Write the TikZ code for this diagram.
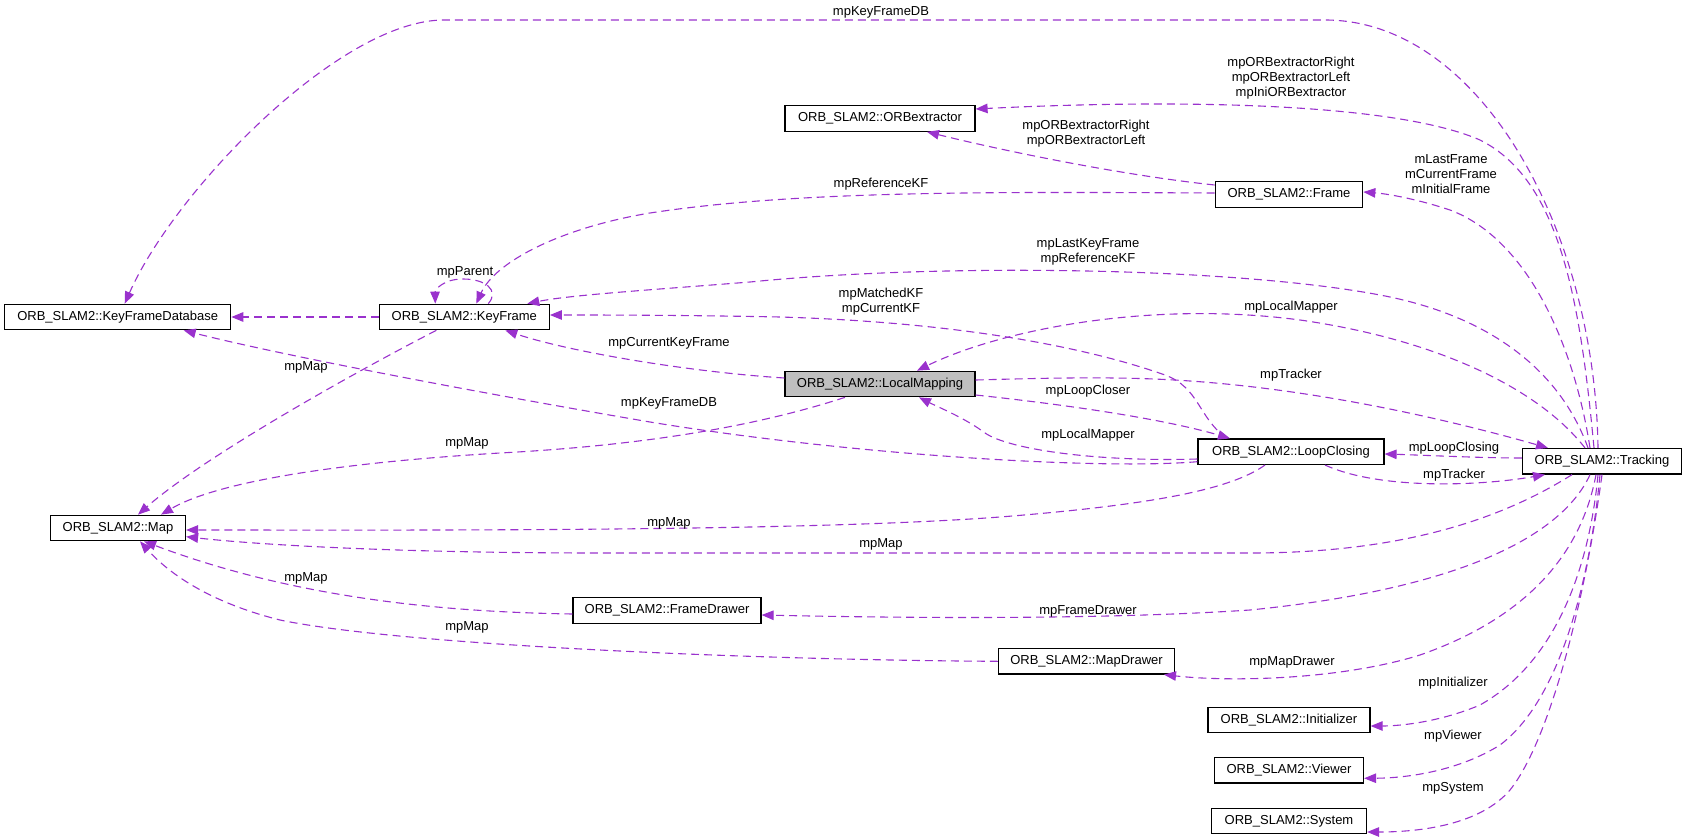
\documentclass[tikz,border=0pt]{standalone}
\usepackage{fontspec}
\setmainfont{Liberation Sans}
\usetikzlibrary{arrows.meta}
\definecolor{edgec}{HTML}{9A32CD}
\definecolor{lmfill}{HTML}{BFBFBF}
\begin{document}
\begin{tikzpicture}[x=1pt,y=-1pt,
  box/.style={draw=black, line width=1.2pt, minimum height=25.5pt, inner xsep=2pt, inner ysep=0pt, font=\fontsize{13}{15}\selectfont, anchor=center},
  edge/.style={draw=edgec, line width=1.1pt, dash pattern=on 8pt off 5pt, -{Triangle[length=12pt,width=9.5pt,fill=edgec]}},
  lbl/.style={font=\fontsize{13}{15}\selectfont, align=center, inner sep=0pt, text=black},
  ]
\useasboundingbox (0,0) rectangle (1687,840);

% nodes
\node[box, minimum width=226pt] (kfdb) at (117.7,317) {ORB\_SLAM2::KeyFrameDatabase};
\node[box, minimum width=170pt] (kf) at (464.3,317) {ORB\_SLAM2::KeyFrame};
\node[box, minimum width=190pt] (orb) at (880,118.5) {ORB\_SLAM2::ORBextractor};
\node[box, minimum width=190pt, fill=lmfill] (lm) at (880,384) {ORB\_SLAM2::LocalMapping};
\node[box, minimum width=147.5pt] (fr) at (1289,194.5) {ORB\_SLAM2::Frame};
\node[box, minimum width=135pt] (map) at (118,528) {ORB\_SLAM2::Map};
\node[box, minimum width=188pt] (fd) at (667,610.5) {ORB\_SLAM2::FrameDrawer};
\node[box, minimum width=176pt] (md) at (1086.5,661.3) {ORB\_SLAM2::MapDrawer};
\node[box, minimum width=186pt] (lc) at (1291,451.7) {ORB\_SLAM2::LoopClosing};
\node[box, minimum width=159pt] (trk) at (1602,461.3) {ORB\_SLAM2::Tracking};
\node[box, minimum width=162pt] (ini) at (1289,720) {ORB\_SLAM2::Initializer};
\node[box, minimum width=149pt] (vw) at (1289,770.3) {ORB\_SLAM2::Viewer};
\node[box, minimum width=155pt] (sys) at (1289,821) {ORB\_SLAM2::System};

% edges
\draw[edge] ([xshift=-4pt]trk.north) .. controls (1595,230) and (1480,20) .. (1325,20) -- (444,20) .. controls (340,20) and (175,190) .. ([xshift=7pt]kfdb.north);
\draw[edge] ([xshift=-8pt]trk.north) .. controls (1580,300) and (1560,180) .. (1480,140) .. controls (1400,105) and (1200,98) .. ([yshift=9.5pt]orb.east);
\draw[edge] ([yshift=9.5pt]fr.west) .. controls (1120,175) and (1000,150) .. ([xshift=47pt]orb.south);
\draw[edge] ([yshift=1.5pt]fr.west) .. controls (1000,192) and (800,190) .. (650,213) .. controls (560,228) and (495,262) .. ([xshift=12pt]kf.north);
\draw[edge] ([xshift=24pt]kf.north) .. controls (500,290) and (485,279) .. (463,279) .. controls (443,279) and (435,290) .. ([xshift=-29pt]kf.north);
\draw[edge] ([xshift=-14pt]trk.north) .. controls (1560,370) and (1490,318) .. (1390,297) .. controls (1250,268) and (950,262) .. (750,282) .. controls (650,290) and (570,295) .. ([xshift=63pt]kf.north);
\draw[edge] ([xshift=-64pt]lc.north) .. controls (1198,418) and (1200,388) .. (1165,375) .. controls (1080,345) and (950,322) .. (780,317) .. controls (680,315) and (600,315) .. ([yshift=2pt]kf.east);
\draw[edge] ([yshift=6pt]lm.west) .. controls (690,372) and (570,352) .. ([xshift=41pt]kf.south);
\draw[edge] ([yshift=-10pt]lc.west) .. controls (1100,470) and (850,455) .. (650,422) .. controls (480,393) and (280,355) .. ([xshift=66pt]kfdb.south);
\draw[edge] ([xshift=-35pt]lm.south) .. controls (760,425) and (650,445) .. (500,453) .. controls (350,462) and (220,480) .. ([xshift=43pt]map.north);
\draw[edge] ([xshift=-28pt]kf.south) .. controls (340,380) and (200,460) .. ([xshift=20pt]map.north);
\draw[edge] ([yshift=-11pt]lm.east) .. controls (1060,404) and (1160,418) .. ([xshift=-61pt]lc.north);
\draw[edge] ([yshift=-7.3pt]lc.west) .. controls (1100,462) and (1010,450) .. (985,433) .. controls (965,418) and (940,408) .. ([xshift=39pt]lm.south);
\draw[edge] ([yshift=4pt]lm.east) .. controls (1050,378) and (1120,376) .. (1190,381) .. controls (1320,390) and (1450,420) .. ([xshift=-54pt]trk.north);
\draw[edge] ([xshift=-17pt]trk.north) .. controls (1540,390) and (1440,340) .. (1300,320) .. controls (1150,300) and (1000,330) .. ([xshift=37pt]lm.north);
\draw[edge] ([yshift=3.3pt]trk.west) .. controls (1480,458) and (1420,455) .. ([yshift=-2.3pt]lc.east);
\draw[edge] ([xshift=34pt]lc.south) .. controls (1380,490) and (1480,486) .. ([xshift=-57pt]trk.south);
\draw[edge] ([xshift=-26pt]lc.south) .. controls (1230,490) and (1150,505) .. (1000,517) .. controls (800,532) and (400,530) .. ([yshift=-2pt]map.east);
\draw[edge] ([xshift=-30pt]trk.south) .. controls (1500,520) and (1400,553) .. (1250,553) -- (600,553) .. controls (400,553) and (260,545) .. ([yshift=-8.7pt]map.east);
\draw[edge] ([yshift=-3.5pt]fd.west) .. controls (450,612) and (300,600) .. ([xshift=26pt]map.south);
\draw[edge] (md.west) .. controls (750,660) and (400,645) .. (280,620) .. controls (220,605) and (175,580) .. ([xshift=22pt]map.south);
\draw[edge] ([xshift=-12pt]trk.south) .. controls (1560,540) and (1450,590) .. (1250,610) .. controls (1100,620) and (900,618) .. ([yshift=-4.5pt]fd.east);
\draw[edge] ([xshift=-6pt]trk.south) .. controls (1580,560) and (1520,620) .. (1420,655) .. controls (1340,680) and (1230,682) .. ([xshift=77.5pt]md.south);
\draw[edge] ([xshift=-4pt]trk.south) .. controls (1590,560) and (1560,660) .. (1480,705) .. controls (1440,722) and (1400,726) .. ([yshift=-6pt]ini.east);
\draw[edge] ([xshift=-2pt]trk.south) .. controls (1590,580) and (1560,700) .. (1500,745) .. controls (1460,770) and (1410,778) .. ([yshift=-8pt]vw.east);
\draw[edge] (trk.south) .. controls (1585,600) and (1550,740) .. (1510,790) .. controls (1480,825) and (1420,832) .. ([yshift=-11pt]sys.east);
\draw[edge] ([xshift=-12pt]trk.north) .. controls (1575,350) and (1530,240) .. (1450,210) .. controls (1420,200) and (1390,194) .. ([yshift=2.5pt]fr.east);
\draw[edge] (kf.west) -- (kfdb.east);

% labels
\node[lbl] (l1) at (881,12) {mpKeyFrameDB};
\node[lbl] (l2) at (1291,78) {mpORBextractorRight\\mpORBextractorLeft\\mpIniORBextractor};
\node[lbl] (l3) at (1086,134) {mpORBextractorRight\\mpORBextractorLeft};
\node[lbl] (l4) at (881,184) {mpReferenceKF};
\node[lbl] (l5) at (1451,174) {mLastFrame\\mCurrentFrame\\mInitialFrame};
\node[lbl] (l6) at (1088,252) {mpLastKeyFrame\\mpReferenceKF};
\node[lbl] (l7) at (465,272) {mpParent};
\node[lbl] (l8) at (881,302) {mpMatchedKF\\mpCurrentKF};
\node[lbl] (l9) at (1291,307) {mpLocalMapper};
\node[lbl] (l10) at (669,343) {mpCurrentKeyFrame};
\node[lbl] (l11) at (669,403) {mpKeyFrameDB};
\node[lbl] (l12) at (306,367) {mpMap};
\node[lbl] (l13) at (1291,375) {mpTracker};
\node[lbl] (l14) at (1088,391) {mpLoopCloser};
\node[lbl] (l15) at (1088,435) {mpLocalMapper};
\node[lbl] (l16) at (467,443) {mpMap};
\node[lbl] (l17) at (1454,448) {mpLoopClosing};
\node[lbl] (l18) at (1454,475) {mpTracker};
\node[lbl] (l19) at (669,523) {mpMap};
\node[lbl] (l20) at (881,544) {mpMap};
\node[lbl] (l21) at (306,578) {mpMap};
\node[lbl] (l22) at (1088,611) {mpFrameDrawer};
\node[lbl] (l23) at (467,627) {mpMap};
\node[lbl] (l24) at (1292,662) {mpMapDrawer};
\node[lbl] (l25) at (1453,683) {mpInitializer};
\node[lbl] (l26) at (1453,736) {mpViewer};
\node[lbl] (l27) at (1453,788) {mpSystem};
\end{tikzpicture}
\end{document}
